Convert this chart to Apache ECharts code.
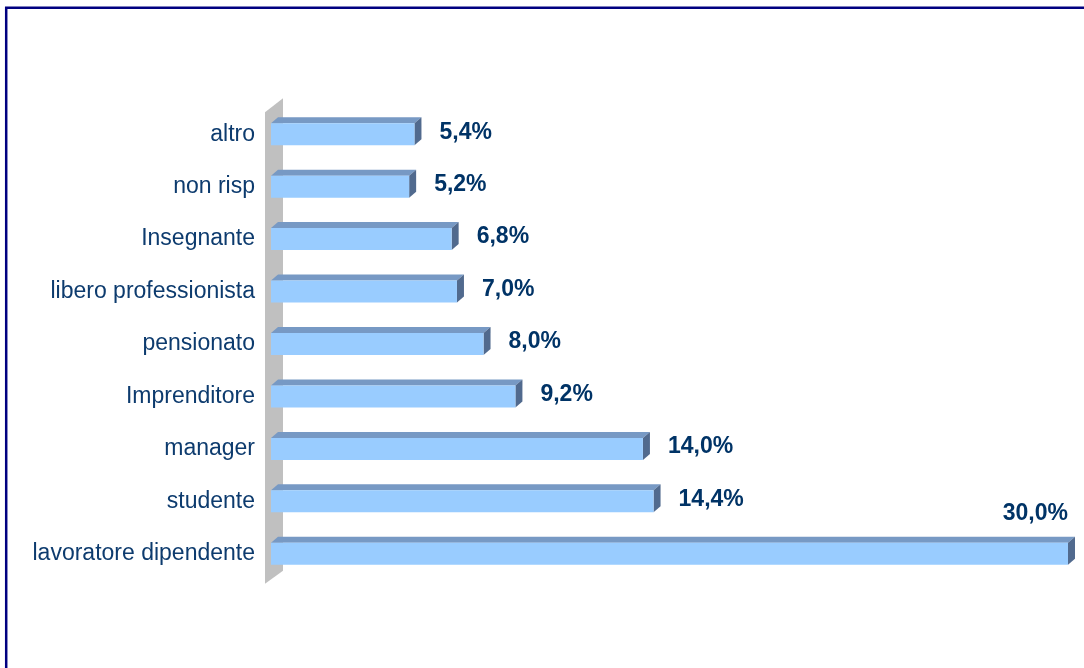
<!DOCTYPE html>
<html>
<head>
<meta charset="utf-8">
<script src="https://cdn.jsdelivr.net/npm/echarts@6/dist/echarts.min.js"></script>
<style>
  html, body { margin: 0; padding: 0; background: #fff; }
  #chart { width: 1084px; height: 668px; }
</style>
</head>
<body>
<div id="chart"></div>
<script>
// categories top to bottom
const categories = [
  "altro",
  "non risp",
  "Insegnante",
  "libero professionista",
  "pensionato",
  "Imprenditore",
  "manager",
  "studente",
  "lavoratore dipendente"
];
const values = [5.4, 5.2, 6.8, 7.0, 8.0, 9.2, 14.0, 14.4, 30.0];

const BAR_H = 22;   // front face height
const DX = 7;       // 3d depth offset
const DY = -6;
const LABEL_FONT = 'bold 23px "Liberation Sans", Arial, sans-serif';

function fmt(v) {
  return v.toFixed(1).replace(".", ",") + "%";
}

function renderBar(params, api) {
  const idx = api.value(1);
  const val = api.value(0);
  const p0 = api.coord([0, idx]);
  const p1 = api.coord([val, idx]);
  const x0 = p0[0], x1 = p1[0], cy = p0[1];
  const top = cy - BAR_H / 2, bot = cy + BAR_H / 2;

  // label: right of the bar, or above it when there is no room
  const chartW = api.getWidth();
  let text;
  if (x1 + DX + 20 + 70 > chartW) {
    text = { type: "text", z2: 10, style: { x: x1, y: cy - 40, text: fmt(val), font: LABEL_FONT,
      fill: "#003366", align: "right", verticalAlign: "middle" } };
  } else {
    text = { type: "text", z2: 10, style: { x: x1 + DX + 18, y: cy - 2, text: fmt(val), font: LABEL_FONT,
      fill: "#003366", align: "left", verticalAlign: "middle" } };
  }

  return {
    type: "group",
    children: [
      { type: "polygon", shape: { points: [[x0, top], [x0 + DX, top + DY], [x1 + DX, top + DY], [x1, top]] },
        style: { fill: "#7799c4" } },
      { type: "polygon", shape: { points: [[x1, top], [x1 + DX, top + DY], [x1 + DX, bot + DY], [x1, bot]] },
        style: { fill: "#516a8e" } },
      { type: "rect", shape: { x: x0, y: top, width: x1 - x0, height: BAR_H },
        style: { fill: "#99ccff" } },
      text
    ]
  };
}

function renderWall(params, api) {
  const n = categories.length;
  const x0 = api.coord([0, 0])[0];
  const yTop = api.coord([0, 0])[1] - 26;
  const yBot = api.coord([0, n - 1])[1] + 26;
  return {
    type: "polygon",
    shape: { points: [[x0 - 6, yTop + 4], [x0 + 12, yTop - 10], [x0 + 12, yBot - 9], [x0 - 6, yBot + 4]] },
    style: { fill: "#c0c0c0" }
  };
}

const chart = echarts.init(document.getElementById("chart"));
chart.setOption({
  animation: false,
  backgroundColor: "#fff",
  graphic: [{
    type: "rect",
    shape: { x: 6.2, y: 7.8, width: 1200, height: 800 },
    style: { fill: "none", stroke: "#000080", lineWidth: 2.5 },
    silent: true
  }],
  grid: { left: 271, right: 16, top: 108, height: 472, containLabel: false },
  xAxis: {
    type: "value", min: 0, max: 30,
    show: false
  },
  yAxis: {
    type: "category",
    data: categories,
    inverse: true,
    axisLine: { show: false },
    axisTick: { show: false },
    splitLine: { show: false },
    axisLabel: {
      margin: 16,
      color: "#0d3b6e",
      fontSize: 23,
      padding: [4, 0, 0, 0],
      fontFamily: "Liberation Sans, Arial, sans-serif"
    }
  },
  series: [
    {
      type: "custom",
      renderItem: renderWall,
      data: [[0, 0]],
      encode: { x: 0, y: 1 },
      z: 1,
      silent: true
    },
    {
      type: "custom",
      renderItem: renderBar,
      data: values.map((v, i) => [v, i]),
      encode: { x: 0, y: 1 },
      z: 2,
      silent: true
    }
  ]
});
</script>
</body>
</html>
